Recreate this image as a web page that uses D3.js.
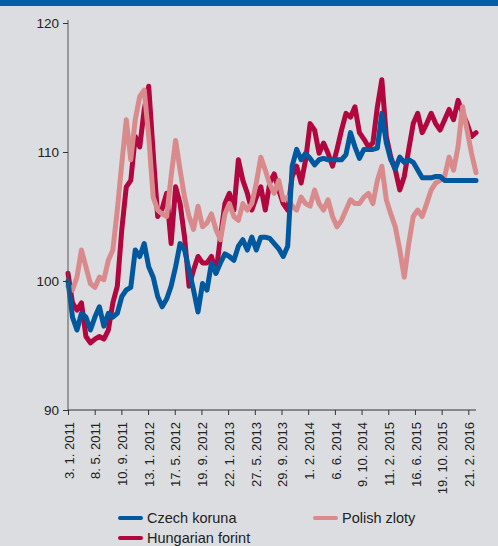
<!DOCTYPE html>
<html>
<head>
<meta charset="utf-8">
<script src="https://cdn.jsdelivr.net/npm/d3@7"></script>
<style>
  html, body { margin: 0; padding: 0; background: #dcdde0; }
  svg { display: block; font-family: "Liberation Sans", Arial, sans-serif; }
</style>
</head>
<body>
<div id="chart"></div>
<script>
// Index values, sampled every 3 weeks from 3.1.2011
const czk = [100.0, 97.2, 96.2, 97.5, 97.2, 96.2, 97.2, 98.0, 96.5, 97.5,
    97.2, 97.5, 98.8, 99.3, 99.5, 102.4, 101.9, 102.9, 101.1, 100.3,
    98.8, 98.0, 98.6, 99.6, 101.1, 102.9, 102.4, 100.85, 99.3, 97.6,
    99.8, 99.3, 101.4, 100.6, 101.4, 102.1, 101.9, 101.6, 102.7, 103.2,
    102.4, 103.4, 102.4, 103.4, 103.4, 103.3, 102.9, 102.5, 101.9, 102.7,
    108.9, 110.2, 109.4, 109.9, 109.5, 109.0, 109.4, 109.5, 109.4, 109.4,
    109.4, 109.4, 109.8, 111.5, 110.4, 109.5, 110.2, 110.2, 110.2, 110.3,
    113.0, 110.7, 109.4, 108.7, 109.6, 109.2, 109.4, 109.2, 108.6, 108.0,
    108.0, 108.0, 108.1, 108.1, 107.8, 107.8, 107.8, 107.8, 107.8, 107.8,
    107.8, 107.8];

const huf = [100.6, 98.3, 97.75, 98.3, 95.7, 95.2, 95.5, 95.7, 95.5, 96.2,
    98.3, 99.6, 104.0, 107.3, 107.8, 111.2, 110.4, 113.3, 115.1, 109.9,
    105.0, 105.6, 106.8, 102.9, 107.3, 106.0, 103.4, 99.6, 100.85, 101.9,
    101.4, 101.4, 101.9, 100.6, 103.4, 106.0, 106.8, 105.5, 109.4, 107.8,
    106.8, 105.5, 106.5, 107.3, 105.5, 107.6, 108.3, 107.05, 106.0, 105.5,
    108.1, 108.9, 107.6, 109.4, 112.2, 111.7, 109.9, 110.7, 109.9, 108.9,
    110.2, 111.7, 113.0, 112.7, 113.5, 111.5, 111.0, 110.4, 110.7, 113.5,
    115.6, 111.2, 109.6, 108.6, 107.05, 108.1, 110.2, 112.2, 113.0, 111.5,
    112.2, 113.0, 112.2, 111.7, 112.5, 113.3, 112.5, 114.0, 113.0, 112.2,
    111.2, 111.5];

const pln = [99.6, 99.3, 100.3, 102.4, 101.1, 99.8, 99.5, 100.3, 100.1, 101.6,
    102.4, 105.5, 109.1, 112.5, 109.4, 112.5, 114.3, 114.8, 111.2, 106.5,
    105.5, 105.2, 105.0, 108.1, 110.9, 108.6, 106.5, 105.0, 104.0, 105.8,
    104.2, 104.5, 105.2, 104.0, 103.2, 105.2, 106.0, 105.0, 104.7, 106.0,
    105.5, 106.0, 107.6, 109.6, 108.6, 107.5, 106.8, 107.8, 106.3, 106.5,
    105.8, 105.5, 106.5, 106.0, 105.8, 107.05, 106.0, 105.5, 106.3, 105.0,
    104.2, 104.7, 105.5, 106.3, 106.0, 106.0, 106.5, 106.8, 106.0, 107.8,
    108.9, 106.3, 105.2, 104.2, 102.4, 100.3, 102.9, 105.0, 105.5, 105.0,
    106.0, 107.05, 107.6, 107.8, 108.1, 109.6, 108.6, 110.4, 113.5, 111.7,
    109.9, 108.4];

const yTicks = [90, 100, 110, 120];
const startDate = new Date(2011, 0, 3);
const endDate = new Date(2016, 2, 28);
const tickStepDays = 125;
const tickCount = 16;

const series = [
    { name: "Hungarian forint", values: huf, color: "#b2063e" },
    { name: "Polish zloty", values: pln, color: "#d98a8c" },
    { name: "Czech koruna", values: czk, color: "#00589f" }
];

const width = 498, height = 546;

const svg = d3.select("#chart")
    .append("svg")
    .attr("width", width)
    .attr("height", height);

// top banner
svg.append("rect")
    .attr("x", 0).attr("y", 0)
    .attr("width", width).attr("height", 6)
    .attr("fill", "#0061a8");

const x = d3.scaleTime()
    .domain([startDate, endDate])
    .range([68, 476]);

const y = d3.scaleLinear()
    .domain([90, 120])
    .range([410, 23]);

const dates = czk.map((v, i) => d3.timeDay.offset(startDate, 21 * i));
const tickDates = d3.range(tickCount).map(i => d3.timeDay.offset(startDate, tickStepDays * i));

// lines
const line = d3.line()
    .x((d, i) => x(dates[i]))
    .y(d => y(d));

svg.selectAll(".series")
    .data(series)
    .enter()
    .append("path")
    .attr("class", "series")
    .attr("fill", "none")
    .attr("stroke", d => d.color)
    .attr("stroke-width", 5)
    .attr("stroke-linejoin", "round")
    .attr("stroke-linecap", "round")
    .attr("d", d => line(d.values));

// y axis
const yAxis = svg.append("g")
    .attr("transform", "translate(68,0)")
    .call(d3.axisLeft(y).tickValues(yTicks).tickSize(5).tickSizeOuter(0).tickPadding(4));
yAxis.select(".domain").attr("stroke", "#555").attr("d", "M0,20V410");
yAxis.selectAll(".tick line").attr("stroke", "#333");
yAxis.selectAll(".tick text")
    .attr("fill", "#222")
    .style("font-size", "13.5px");

// x axis
const xAxis = svg.append("g")
    .attr("transform", "translate(0,410)")
    .call(d3.axisBottom(x).tickValues(tickDates).tickSize(5).tickSizeOuter(0)
        .tickFormat(d3.timeFormat("%-d. %-m. %Y")));
xAxis.select(".domain").attr("stroke", "#333").attr("d", "M68,0H476");
xAxis.selectAll(".tick line").attr("stroke", "#333");
xAxis.selectAll(".tick text")
    .attr("fill", "#222")
    .style("font-size", "13px")
    .attr("text-anchor", "end")
    .attr("dy", "0.4em")
    .attr("x", -12)
    .attr("y", 0)
    .attr("transform", "rotate(-90)");

// legend
const legendItems = [
    { name: "Czech koruna", color: "#00589f", lx: 120, ly: 518 },
    { name: "Polish zloty", color: "#d98a8c", lx: 315, ly: 518 },
    { name: "Hungarian forint", color: "#b2063e", lx: 120, ly: 538 }
];

const legend = svg.selectAll(".legend")
    .data(legendItems)
    .enter()
    .append("g")
    .attr("class", "legend")
    .attr("transform", d => `translate(${d.lx},${d.ly})`);

legend.append("line")
    .attr("x1", 0).attr("x2", 21)
    .attr("stroke", d => d.color)
    .attr("stroke-width", 4)
    .attr("stroke-linecap", "round");

legend.append("text")
    .attr("x", 27)
    .attr("dy", "0.35em")
    .attr("fill", "#222")
    .style("font-size", "14.5px")
    .text(d => d.name);
</script>
</body>
</html>
